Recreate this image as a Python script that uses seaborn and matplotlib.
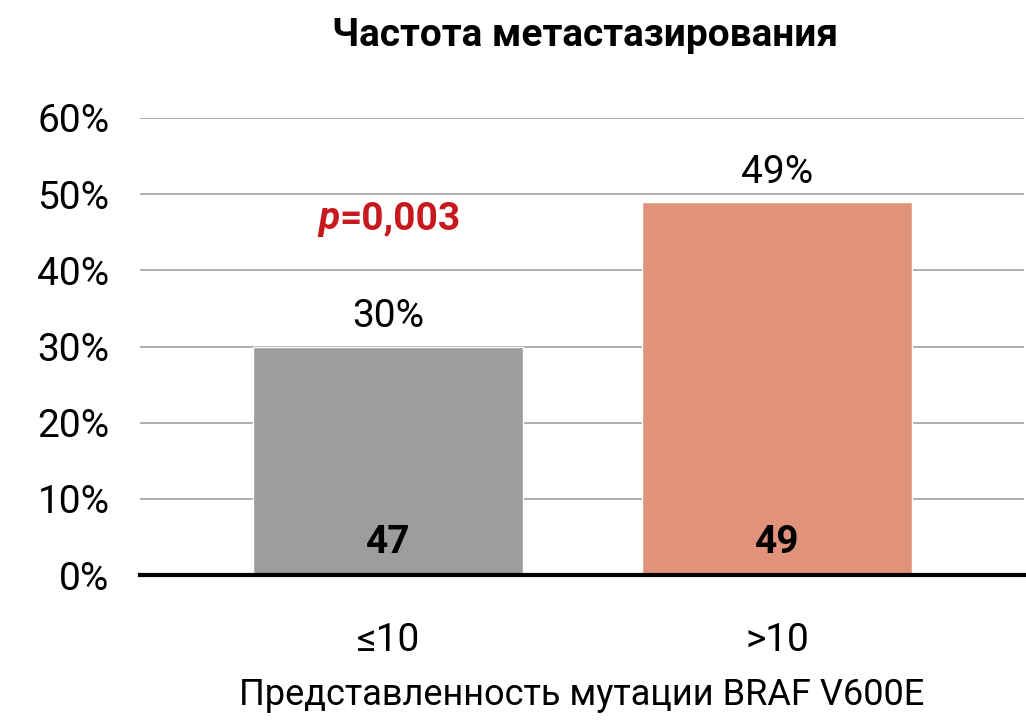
import matplotlib
matplotlib.use('Agg')
import matplotlib.pyplot as plt
import seaborn as sns
import pandas as pd

# data
groups = ['≤10', '>10']
rates = [0.30, 0.49]
counts = [47, 49]
p_text = '=0,003'

bar_colors = ['#9d9d9c', '#e0937a']

sns.set_theme(style='white')
plt.rcParams['font.family'] = ['Roboto', 'DejaVu Sans']
plt.rcParams['text.color'] = 'black'
plt.rcParams['axes.labelcolor'] = 'black'

df = pd.DataFrame({'group': groups, 'rate': rates, 'n': counts})

fig = plt.figure(figsize=(10.26, 7.24), dpi=100)
ax = fig.add_axes([140 / 1026, 149 / 724, 884 / 1026, 457 / 724])

sns.barplot(data=df, x='group', y='rate', hue='group', palette=bar_colors,
            width=0.694, saturation=1, legend=False, ax=ax, zorder=3)

ax.set_ylim(0, 0.6)
ax.set_xlim(-0.638, 1.635)
ax.set_yticks([i / 10 for i in range(7)])
ax.set_yticklabels([f'{i * 10}%' for i in range(7)])
ax.yaxis.grid(True, color='#a8a8a8', linewidth=1.3, zorder=0)
ax.set_axisbelow(True)
for s in ['top', 'right', 'left']:
    ax.spines[s].set_visible(False)
ax.spines['bottom'].set_color('black')
ax.spines['bottom'].set_linewidth(3)
ax.spines['bottom'].set_zorder(5)
ax.tick_params(axis='both', length=0, labelsize=28, colors='black')
ax.tick_params(axis='x', pad=34)
ax.tick_params(axis='y', pad=22)

ax.set_xlabel('Представленность мутации BRAF V600E', fontsize=26, labelpad=13,
              color='black')
ax.set_ylabel('')
ax.set_title('Частота метастазирования', fontsize=28, fontweight='bold', pad=52,
             x=(585 - 140) / 884, color='black')

for i, (r, n) in enumerate(zip(rates, counts)):
    ax.annotate(f'{round(r * 100)}%', (i, r), xytext=(0, 8), textcoords='offset points',
                ha='center', va='bottom', fontsize=28, color='black')
    ax.annotate(str(n), (i, 0), xytext=(0, 10), textcoords='offset points',
                ha='center', va='bottom', fontsize=28, fontweight='bold', color='black')

ax.text(-0.125, 0.468, 'p', fontsize=28, fontweight='bold', fontstyle='italic',
        color='#c8191e', ha='right', va='center')
ax.text(-0.125, 0.468, p_text, fontsize=28, fontweight='bold',
        color='#c8191e', ha='left', va='center')

fig.savefig('out.png', dpi=100)
